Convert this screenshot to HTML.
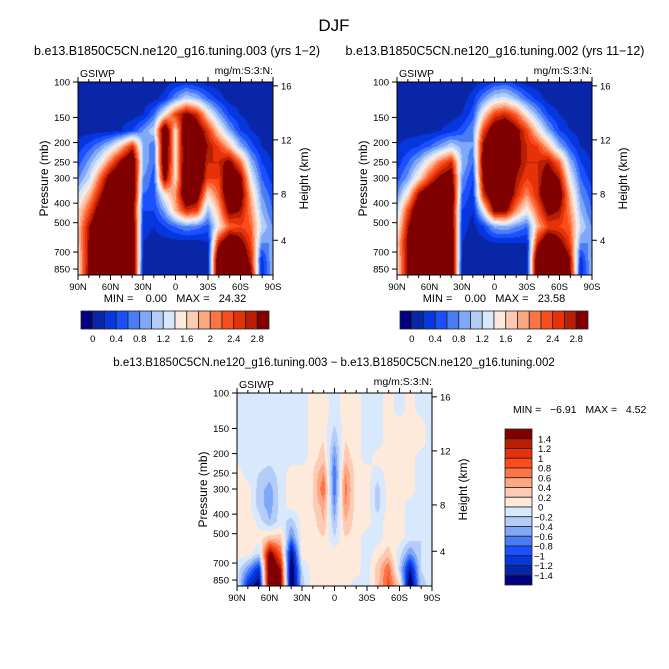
<!DOCTYPE html>
<html><head><meta charset="utf-8"><style>
html,body{margin:0;padding:0;background:#fff;}
#wrap{position:relative;width:669px;height:669px;overflow:hidden;background:#fff;}
canvas{position:absolute;}
svg{position:absolute;left:0;top:0;}
text{font-family:"Liberation Sans",sans-serif;fill:#000;}
</style></head><body>
<div id="wrap">
<canvas id="cA" style="left:78px;top:82px" width="195" height="193"></canvas>
<canvas id="cB" style="left:397px;top:82px" width="195" height="193"></canvas>
<canvas id="cD" style="left:237px;top:393px" width="195" height="193"></canvas>
<svg id="svg" width="669" height="669"></svg>
</div>
<script>
// ---- data ----
const latLabels = ['90N','60N','30N','0','30S','60S','90S'];
const pressureTicks = [100,150,200,250,300,400,500,700,850];
const heightTicks = [16,12,8,4];
const heightTickY = [0.02,0.30,0.58,0.82];
const levelsAbs = [0,0.2,0.4,0.6,0.8,1.0,1.2,1.4,1.6,1.8,2.0,2.2,2.4,2.6,2.8];
const levelsAbsLabels = ['0','0.4','0.8','1.2','1.6','2','2.4','2.8'];
const levelsDiff = [-1.4,-1.2,-1,-0.8,-0.6,-0.4,-0.2,0,0.2,0.4,0.6,0.8,1,1.2,1.4];
const levelsDiffLabels = ['1.4','1.2','1','0.8','0.6','0.4','0.2','0','\u22120.2','\u22120.4','\u22120.6','\u22120.8','\u22121','\u22121.2','\u22121.4'];
const statsA = ['0.00','24.32'];
const statsB = ['0.00','23.58'];
const statsD = ['-6.91','4.52'];
// rows: 100 mb (top) -> surface (bottom); cols: 90N -> 90S every 10 deg
const fieldA = [
[.1,.1,.1,.1,.1,.1,.1,.1,.1,.2,.3,.2,.1,.1,.1,.1,.1,.1,.1],
[.1,.1,.1,.1,.1,.1,.1,.1,.3,.8,1.2,1.0,.6,.3,.1,.1,.1,.1,.1],
[.1,.1,.1,.1,.1,.1,.2,.6,1.5,2.4,3.0,2.6,1.6,.9,.4,.2,.1,.1,.1],
[.1,.1,.1,.1,.2,.4,.8,1.2,3.5,1.6,3.5,3.2,2.5,1.6,.9,.4,.2,.1,.1],
[.3,.5,.8,1.2,1.8,2.6,1.0,.6,3.5,1.5,3.5,3.5,2.8,2.4,1.8,1.0,.5,.2,.1],
[.5,.9,1.4,2.2,3.0,3.5,1.0,.6,3.5,1.5,3.5,3.5,2.6,2.6,3.0,2.2,1.0,.4,.2],
[.8,1.2,2.2,3.2,3.5,3.5,.8,.5,3.0,1.6,3.5,3.5,2.4,2.4,3.5,3.0,1.4,.6,.3],
[1.2,1.8,2.7,3.5,3.5,3.5,.6,.5,1.5,2.0,3.5,3.2,1.6,2.2,3.5,3.2,1.8,.8,.5],
[1.6,2.3,3.2,3.5,3.5,3.2,.4,.4,.9,1.8,2.6,2.4,1.0,1.8,3.0,2.8,2.0,1.0,.6],
[1.7,2.8,3.5,3.5,3.5,3.5,.3,.2,.4,.6,.8,.7,.5,1.5,2.2,2.4,2.2,1.2,.8],
[1.7,2.9,3.5,3.5,3.5,3.5,.2,.1,.1,.1,.1,.1,.2,2.6,3.5,3.0,2.4,.8,.8],
[1.6,2.9,3.5,3.5,3.5,3.5,.2,.1,.1,.1,.1,.1,.1,3.5,3.5,3.5,2.6,.3,1.0],
[1.6,3.0,3.5,3.5,3.5,3.5,.1,.1,.1,.1,.1,.1,.1,3.5,3.5,3.5,3.0,.2,1.0]
];
const fieldB = [
[.1,.1,.1,.1,.1,.1,.1,.1,.2,.4,.5,.3,.1,.1,.1,.1,.1,.1,.1],
[.1,.1,.1,.1,.1,.1,.1,.3,.8,1.2,1.3,1.0,.6,.3,.1,.1,.1,.1,.1],
[.1,.1,.1,.1,.1,.1,.2,.5,1.6,2.4,2.6,2.2,1.5,.9,.4,.2,.1,.1,.1],
[.1,.1,.1,.1,.2,.3,.5,.8,2.4,3.3,3.5,3.0,2.4,1.6,.9,.4,.2,.1,.1],
[.2,.3,.4,.6,.9,1.2,.9,.8,3.0,3.5,3.5,3.0,2.6,2.4,1.8,1.0,.5,.2,.1],
[.3,.6,1.0,1.6,2.2,2.6,1.0,.6,3.2,3.5,3.5,3.0,2.6,2.6,2.8,2.2,1.0,.4,.2],
[.5,.9,1.6,2.4,3.0,3.2,.8,.4,3.0,3.5,3.5,2.8,2.4,2.6,3.2,2.8,1.4,.6,.3],
[.8,1.6,2.9,3.5,3.5,3.5,.6,.3,2.6,3.5,3.5,2.6,2.0,2.6,3.5,3.2,1.8,.8,.5],
[1.2,2.4,3.5,3.5,3.5,3.3,.4,.2,1.4,3.0,3.0,2.0,1.4,2.2,3.0,2.8,2.0,1.0,.6],
[1.4,2.8,3.5,3.5,3.5,3.4,.3,.1,.4,.9,1.0,.8,.6,1.8,2.4,2.4,2.2,1.2,.8],
[1.7,3.0,3.5,3.5,3.5,3.5,.2,.1,.1,.2,.2,.2,.2,2.6,3.5,3.0,2.4,.8,.8],
[1.6,3.0,3.5,3.5,3.5,3.5,.2,.1,.1,.1,.1,.1,.1,3.5,3.5,3.5,2.8,.3,1.0],
[1.6,3.0,3.5,3.5,3.5,3.5,.1,.1,.1,.1,.1,.1,.1,3.5,3.5,3.5,3.0,.2,1.0]
];
const fieldDiff = [
[-.1,-.1,-.1,-.1,-.1,-.1,-.1,.1,.1,-.1,.1,.1,-.1,-.1,.1,-.1,.1,-.1,-.1],
[-.1,-.1,-.1,-.1,-.1,-.1,-.1,.1,.1,-.1,.1,.1,-.1,-.1,.1,-.1,.1,-.1,-.1],
[-.1,-.1,-.1,-.1,-.1,-.1,-.1,.1,.1,-.2,.1,.1,-.1,-.1,.1,.1,.1,.1,-.1],
[-.1,-.1,-.1,-.1,-.1,-.1,-.1,.1,.2,-.4,.2,.1,-.1,-.1,.1,.1,.1,.1,-.1],
[-.1,-.1,-.1,-.1,-.1,-.1,-.1,.1,.3,-.6,.3,.1,-.1,.1,.1,.1,.1,-.1,-.1],
[.1,-.1,-.2,-.3,-.1,.1,.1,.2,.6,-.8,.6,.1,.1,-.1,.1,.1,.1,-.1,-.1],
[.1,.1,-.3,-.5,-.1,.1,.1,.2,.8,-.8,.7,.1,.1,-.3,.1,.1,.1,-.1,-.1],
[.1,.1,-.3,-.5,-.1,.1,.1,.2,.5,-.6,.6,.1,.1,-.3,.1,.1,-.1,-.1,-.1],
[.1,.2,-.1,-.4,-.1,-.3,.1,.1,.4,-.4,.4,.1,.1,-.1,.1,.1,-.1,-.1,-.1],
[.1,.2,.1,.3,.3,-.7,.1,.1,.2,-.2,.2,.1,-.1,-.1,.1,.1,-.1,-.2,-.1],
[.1,.1,-.2,1.6,.8,-1.5,.1,.1,.1,.1,.1,.1,-.1,.1,.3,-.1,-.6,-.2,-.1],
[-.1,-.6,-1.2,2.0,1.4,-1.8,-.2,.1,.1,.1,.1,.1,-.1,.3,.8,-.2,-1.4,-.2,-.1],
[-.1,-1.2,-1.6,2.0,1.6,-1.8,-.3,.1,.1,.1,.1,-.1,-.1,.3,.9,.3,-1.8,-.3,-.1]
];
const cmap = ['#000080','#0a26a8','#0536de','#1a50ff','#4a7cf5','#80a8f8','#b4cdf8','#d8e8fd','#feeadb','#fdcab4','#fca882','#fb7446','#fc4c1c','#e53208','#b81e02','#800000'];

// ---- helpers ----
function hex(c){return [parseInt(c.slice(1,3),16),parseInt(c.slice(3,5),16),parseInt(c.slice(5,7),16)];}
const cmapRGB = cmap.map(hex);
function levelIndex(v, levels){let i=0;while(i<levels.length && v>=levels[i]) i++;return i;}
function renderField(id, grid, levels){
  const cv=document.getElementById(id), ctx=cv.getContext('2d');
  const W=cv.width,H=cv.height, img=ctx.createImageData(W,H);
  const R=grid.length, C=grid[0].length;
  for(let y=0;y<H;y++){
    const fy=y/(H-1)*(R-1), r0=Math.min(R-2,Math.floor(fy)), ty=fy-r0;
    for(let x=0;x<W;x++){
      const fx=x/(W-1)*(C-1), c0=Math.min(C-2,Math.floor(fx)), tx=fx-c0;
      const v=(grid[r0][c0]*(1-tx)+grid[r0][c0+1]*tx)*(1-ty)+(grid[r0+1][c0]*(1-tx)+grid[r0+1][c0+1]*tx)*ty;
      const col=cmapRGB[levelIndex(v,levels)], k=(y*W+x)*4;
      img.data[k]=col[0];img.data[k+1]=col[1];img.data[k+2]=col[2];img.data[k+3]=255;
    }
  }
  ctx.putImageData(img,0,0);
}
renderField('cA',fieldA,levelsAbs);
renderField('cB',fieldB,levelsAbs);
renderField('cD',fieldDiff,levelsDiff);

const NS='http://www.w3.org/2000/svg', svg=document.getElementById('svg');
function el(tag,attrs,parent){const e=document.createElementNS(NS,tag);for(const k in attrs)e.setAttribute(k,attrs[k]);(parent||svg).appendChild(e);return e;}
function txt(x,y,s,size,anchor,parent,rot){const t=el('text',{x:x,y:y,'font-size':size,'text-anchor':anchor||'middle'},parent);if(rot)t.setAttribute('transform','rotate(-90 '+x+' '+y+')');t.textContent=s;return t;}

const pTop=100,pBot=910;
function pY(p,y0,h){return y0+Math.log(p/pTop)/Math.log(pBot/pTop)*h;}

function axes(x0,y0,name){
  const w=195,h=193;
  const g=el('g',{});
  
  
  el('rect',{x:x0,y:y0,width:w,height:h,fill:'none',stroke:'#000','stroke-width':1},g);
  for(let i=0;i<=18;i++){
    const x=x0+i/18*w, len=(i%3===0)?5:3;
    el('line',{x1:x,y1:y0,x2:x,y2:y0-len,stroke:'#000'},g);
    el('line',{x1:x,y1:y0+h,x2:x,y2:y0+h+len,stroke:'#000'},g);
  }
  latLabels.forEach((l,i)=>{
    const t=txt(x0+i/6*w,y0+h+15,l,9.5,'middle',g);
    
    
  });
  pressureTicks.forEach(p=>{
    const y=pY(p,y0,h);
    el('line',{x1:x0,y1:y,x2:x0-5,y2:y,stroke:'#000'},g);
    const t=txt(x0-8,y+3.5,String(p),9.5,'end',g);
    
    
  });
  heightTicks.forEach((hk,i)=>{
    const y=y0+heightTickY[i]*h;
    el('line',{x1:x0+w,y1:y,x2:x0+w+5,y2:y,stroke:'#000'},g);
    const t=txt(x0+w+8,y+3.5,String(hk),9.5,'start',g);
    
    
  });
  const yl=txt(x0-30,y0+h/2,'Pressure (mb)',12,'middle',g,true);
  
  
  const yr=txt(x0+w+35,y0+h/2,'Height (km)',12,'middle',g,true);
  
  
  const a=txt(x0+2,y0-5,'GSIWP',10.5,'start',g);
  
  
  const b=txt(x0+w,y0-8,'mg/m:S:3:N:',10.5,'end',g);
  
  
}
function hbar(x0,y0,name){
  const w=188,h=18,n=cmap.length,bw=w/n;
  const g=el('g',{});
  
  
  cmap.forEach((c,i)=>{
    const r=el('rect',{x:x0+i*bw,y:y0,width:bw,height:h,fill:c,stroke:'#222','stroke-width':0.8},g);
    
    
  });
  levelsAbsLabels.forEach((l,i)=>{
    const t=txt(x0+(1+2*i)*bw,y0+h+13,l,9.5,'middle',g);
    
    
  });
}

const title=txt(334,31,'DJF',17,'middle');


const sA=txt(177,55,'b.e13.B1850C5CN.ne120_g16.tuning.003 (yrs 1\u22122)',12.5,'middle');


const sB=txt(495,55,'b.e13.B1850C5CN.ne120_g16.tuning.002 (yrs 11\u221212)',12.5,'middle');


const sD=txt(334,366,'b.e13.B1850C5CN.ne120_g16.tuning.003 \u2212 b.e13.B1850C5CN.ne120_g16.tuning.002',11.5,'middle');



axes(78,82,'panel-a');
axes(397,82,'panel-b');
axes(237,393,'panel-diff');

const mA=txt(175,302,'MIN =    '+statsA[0]+'   MAX =   '+statsA[1],11,'middle');


mA.style.whiteSpace='pre';
const mB=txt(494,302,'MIN =    '+statsB[0]+'   MAX =   '+statsB[1],11,'middle');


mB.style.whiteSpace='pre';
const mD=txt(513,413,'MIN =   '+statsD[0].replace('-','\u2212')+'   MAX =   '+statsD[1],10.5,'start');


mD.style.whiteSpace='pre';

hbar(81,311,'colorbar-a');
hbar(400,311,'colorbar-b');

(function(){
  const x0=505,y0=429,w=27,h=156,n=cmap.length,bh=h/n;
  const g=el('g',{});
  
  
  for(let i=0;i<n;i++){
    const r=el('rect',{x:x0,y:y0+i*bh,width:w,height:bh,fill:cmap[n-1-i],stroke:'#222','stroke-width':0.8},g);
    
    
  }
  levelsDiffLabels.forEach((l,i)=>{
    const t=txt(l[0]==='\u2212'?534:538,y0+(i+1)*bh+3.5,l,9.5,'start',g);
    
    
  });
})();
</script>
</body></html>
